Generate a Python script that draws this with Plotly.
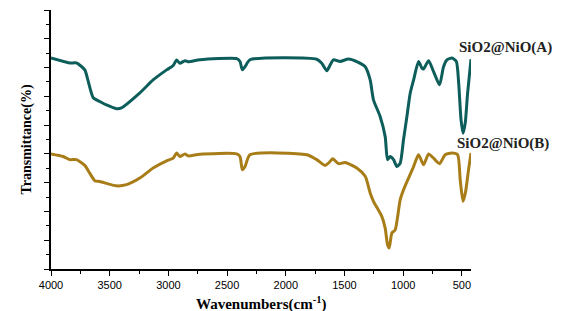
import plotly.graph_objects as go

# Wavenumbers (cm-1) and transmittance (arbitrary, offset) for sample A
wn_a = [4000, 3840, 3783, 3712, 3686, 3640, 3584, 3527, 3442, 3399, 3243, 3130, 3015, 2959,
        2930, 2902, 2859, 2831, 2731, 2418, 2390, 2370, 2347, 2305, 1736, 1693, 1650, 1622,
        1594, 1537, 1466, 1395, 1323, 1281, 1253, 1196, 1153, 1133, 1110, 1082, 1053, 1025,
        997, 968, 940, 911, 869, 840, 826, 783, 741, 690, 656, 627, 584, 547, 527, 507, 490,
        471, 451, 422]
t_a = [73.3, 71.6, 71.6, 69.2, 65.7, 59.5, 58.2, 57.0, 55.7, 56.0, 61.2, 65.7, 69.2, 70.7,
       72.6, 71.5, 72.4, 72.0, 72.7, 73.1, 72.1, 69.2, 70.3, 72.7, 72.9, 71.5, 68.9, 70.9,
       72.7, 72.1, 73.0, 72.1, 70.3, 65.7, 58.8, 53.0, 46.0, 38.0, 39.1, 38.0, 35.6, 36.8,
       44.9, 53.0, 61.1, 65.7, 72.1, 69.8, 69.5, 72.4, 68.6, 64.0, 70.3, 72.7, 73.3, 72.1,
       64.6, 51.9, 47.2, 50.8, 61.1, 72.9]

# Sample B
wn_b = [4000, 3897, 3840, 3783, 3712, 3670, 3627, 3584, 3442, 3357, 3243, 3130, 3015, 2959,
        2930, 2902, 2859, 2831, 2731, 2418, 2390, 2370, 2347, 2305, 1821, 1736, 1665, 1636,
        1599, 1551, 1494, 1395, 1323, 1281, 1253, 1182, 1153, 1133, 1119, 1096, 1068, 1025,
        997, 954, 911, 869, 826, 783, 741, 690, 642, 584, 536, 514, 490, 468, 443, 422]
t_b = [40.0, 39.1, 38.0, 38.0, 36.0, 33.3, 30.7, 30.4, 28.9, 29.3, 31.6, 35.1, 37.6, 38.5,
       40.3, 39.1, 40.0, 39.3, 39.9, 40.0, 39.1, 34.5, 35.6, 39.7, 39.7, 38.0, 36.0, 36.8,
       38.3, 36.6, 37.0, 35.1, 32.2, 26.4, 23.5, 18.3, 14.2, 8.4, 7.3, 12.5, 13.6, 24.1,
       27.5, 31.6, 35.6, 39.7, 36.2, 40.0, 38.5, 36.6, 39.7, 40.3, 39.7, 31.0, 23.5, 26.9,
       34.5, 40.3]

labels = ["SiO2@NiO(A)", "SiO2@NiO(B)"]
x_title = "Wavenumbers(cm<sup>-1</sup>)"
y_title = "Transmittance(%)"
x_ticks = [4000, 3500, 3000, 2500, 2000, 1500, 1000, 500]

col_a = "#0d5e5b"
col_b = "#a87d18"

fig = go.Figure()
fig.add_trace(go.Scatter(x=wn_a, y=t_a, mode="lines", line=dict(color=col_a, width=3, shape="spline", smoothing=0.6), showlegend=False))
fig.add_trace(go.Scatter(x=wn_b, y=t_b, mode="lines", line=dict(color=col_b, width=3, shape="spline", smoothing=0.6), showlegend=False))

serif = "Liberation Serif, Times New Roman, serif"
fig.add_annotation(x=1.083, y=76.9, xref="paper", yref="y", text="<b>" + labels[0] + "</b>", showarrow=False,
                   font=dict(family=serif, size=15, color="#222"), xanchor="center", yanchor="middle")
fig.add_annotation(x=1.075, y=43.5, xref="paper", yref="y", text="<b>" + labels[1] + "</b>", showarrow=False,
                   font=dict(family=serif, size=15, color="#222"), xanchor="center", yanchor="middle")
fig.add_annotation(x=0.5, y=-0.135, xref="paper", yref="paper", text="<b>" + x_title + "</b>", showarrow=False,
                   font=dict(family=serif, size=15, color="black"), xanchor="center", yanchor="middle")

fig.update_layout(
    width=559, height=303,
    margin=dict(l=43, r=96, t=2, b=42),
    paper_bgcolor="white", plot_bgcolor="white",
    xaxis=dict(range=[4000, 422], tickvals=x_ticks, ticktext=[str(v) for v in x_ticks],
               automargin=False,
               ticks="outside", ticklen=5, tickwidth=1.2, tickcolor="black",
               minor=dict(dtick=250, tick0=0, ticks="outside", ticklen=3, tickcolor="black", tickwidth=1),
               showline=True, linecolor="black", linewidth=1.5, showgrid=False, zeroline=False,
               tickfont=dict(family="Liberation Sans, Arial, sans-serif", size=11, color="black")),
    yaxis=dict(range=[0, 90], dtick=10, tick0=0, showticklabels=False,
               automargin=False,
               ticks="outside", ticklen=5, tickwidth=1.2, tickcolor="black",
               minor=dict(dtick=5, tick0=0, ticks="outside", ticklen=3, tickcolor="black", tickwidth=1),
               showline=True, linecolor="black", linewidth=1.5, showgrid=False, zeroline=False,
               title=dict(text="<b>" + y_title + "</b>", standoff=9,
                          font=dict(family=serif, size=14, color="black"))),
)

fig.write_html("out.html")
